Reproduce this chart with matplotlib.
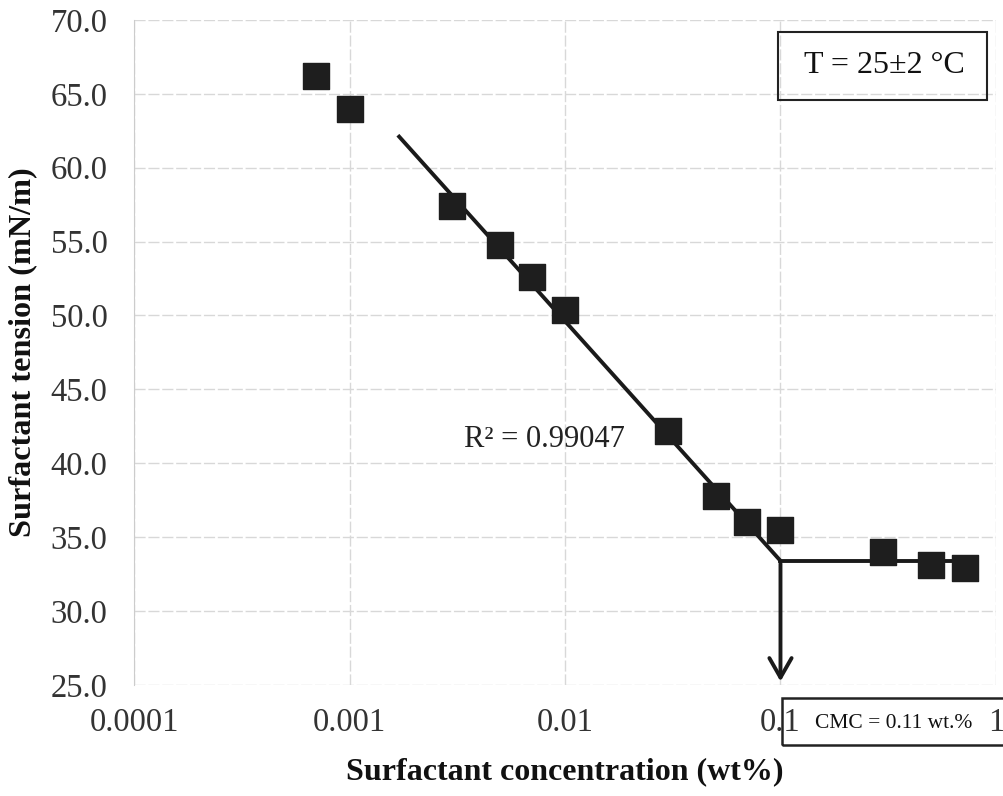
import matplotlib
matplotlib.use("Agg")
import matplotlib.pyplot as plt
from matplotlib.ticker import FixedLocator, NullLocator

plt.rcParams['font.family'] = ['Liberation Serif', 'DejaVu Serif']

conc = [0.0007, 0.001, 0.003, 0.005, 0.007, 0.01, 0.03, 0.05, 0.07, 0.1, 0.3, 0.5, 0.72]
tension = [66.2, 64.0, 57.4, 54.8, 52.6, 50.4, 42.2, 37.8, 36.0, 35.5, 34.0, 33.1, 32.9]

fit_x = [0.0017, 0.1]
fit_y = [62.1, 33.4]
plateau_x = [0.1, 0.75]
plateau_y = [33.4, 33.4]
cmc_x = 0.1

xticks = [0.0001, 0.001, 0.01, 0.1, 1]
xticklabels = ["0.0001", "0.001", "0.01", "0.1", "1"]
yticks = [25, 30, 35, 40, 45, 50, 55, 60, 65, 70]

fig = plt.figure(figsize=(10.04, 7.96), dpi=100)
ax = fig.add_axes([0.1335, 0.1395, 0.8585, 0.8355])
ax.set_xscale('log')
ax.set_xlim(0.0001, 1)
ax.set_ylim(25, 70)

ax.xaxis.set_major_locator(FixedLocator(xticks))
ax.xaxis.set_minor_locator(NullLocator())
ax.set_xticklabels(xticklabels)
ax.set_yticks(yticks)
ax.set_yticklabels([f"{v:.1f}" for v in yticks])
ax.tick_params(axis='both', length=0, labelsize=23.5, colors='#333333')
ax.tick_params(axis='y', pad=19)
ax.tick_params(axis='x', pad=16)

ax.grid(True, color='#d8d8d8', linewidth=1.0, linestyle=(0, (8, 2)))
for s in ['top', 'right', 'bottom']:
    ax.spines[s].set_visible(False)
ax.spines['left'].set_color('#cccccc')

ax.plot(fit_x, fit_y, color='#1a1a1a', linewidth=2.8, zorder=3)
ax.plot(plateau_x, plateau_y, color='#1a1a1a', linewidth=2.8, zorder=3)
ax.annotate('', xy=(cmc_x, 25.05), xytext=(cmc_x, plateau_y[0]),
            arrowprops=dict(arrowstyle='->,head_length=0.7,head_width=0.4',
                            mutation_scale=20, color='#1a1a1a', lw=2.8), zorder=3)

ax.scatter(conc, tension, marker='s', s=350, color='#1e1e1e', zorder=4)

ax.text(0.019, 41.6, 'R² = 0.99047', fontsize=22, ha='right', va='center', color='#222222')

fig.text(0.8805, 0.918, 'T = 25±2 °C', fontsize=23, ha='center', va='center', color='#111111')
tbox = plt.Rectangle((0.775, 0.8744), 0.208, 0.086, transform=fig.transFigure,
                     fill=False, edgecolor='#222222', linewidth=1.5)
fig.add_artist(tbox)

fig.text(0.8905, 0.0905, 'CMC = 0.11 wt.%', fontsize=15.5, ha='center', va='center', color='#111111')
box = plt.Rectangle((0.779, 0.064), 0.235, 0.059, transform=fig.transFigure,
                    fill=False, edgecolor='#222222', linewidth=1.8, clip_on=False)
fig.add_artist(box)

ax.set_ylabel('Surfactant tension (mN/m)', fontsize=23.2, fontweight='bold', color='#111111')
ax.yaxis.set_label_coords(-0.1125, 0.5)
ax.set_xlabel('Surfactant concentration (wt%)', fontsize=23, fontweight='bold', labelpad=14, color='#111111')

fig.savefig('out.png', dpi=100, facecolor='white')
